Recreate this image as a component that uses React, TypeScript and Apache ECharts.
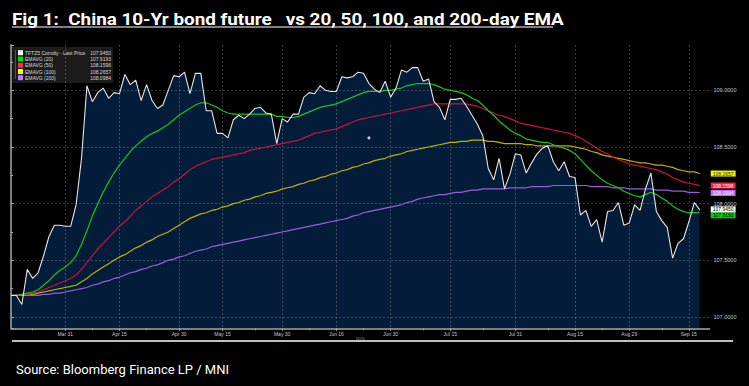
import React, { useEffect, useRef } from "react";
import * as echarts from "echarts";

// Trading-day index 0..127 (Mar 17 2025 .. Sep 17 2025)
const tickLabels = ["Mar 31", "Apr 15", "Apr 30", "May 15", "May 30", "Jun 16", "Jun 30", "Jul 15", "Jul 31", "Aug 15", "Aug 29", "Sep 15"];
const tickIdx = [10, 20, 31, 39, 50, 60, 70, 81, 93, 104, 114, 125];
const minorTickIdx = [4, 15, 25, 45, 55, 65, 76, 87, 99, 109, 120];

const seriesNames = ["TFTZ5 Comdty - Last Price", "EMAVG (20)", "EMAVG (50)", "EMAVG (100)", "EMAVG (200)"];
const legendValues = ["107.9450", "107.9193", "108.1596", "108.2657", "108.0984"];

const price = [
  107.19, 107.19, 107.11, 107.42, 107.34, 107.39, 107.54, 107.71, 107.81, 107.81,
  107.80, 107.80, 107.99, 108.40, 109.04, 108.90, 108.98, 109.02, 108.93, 108.98,
  108.97, 109.14, 109.05, 109.09, 108.91, 109.05, 108.91, 108.84, 108.87, 109.00,
  109.13, 109.12, 109.16, 108.97, 109.15, 109.15, 108.82, 108.82, 108.62, 108.62,
  108.58, 108.74, 108.78, 108.75, 108.79, 108.84, 108.85, 108.80, 108.79, 108.53,
  108.75, 108.72, 108.79, 108.79, 108.94, 108.98, 108.97, 109.04, 109.00, 108.99,
  108.99, 109.12, 109.11, 109.12, 109.16, 109.15, 109.06, 109.01, 108.98, 109.08,
  108.94, 109.02, 109.18, 109.16, 109.20, 109.20, 109.08, 109.10, 108.90, 108.85,
  108.74, 108.92, 108.92, 108.93, 108.86, 108.78, 108.70, 108.60, 108.31, 108.21,
  108.40, 108.13, 108.26, 108.44, 108.43, 108.27, 108.36, 108.44, 108.49, 108.51,
  108.37, 108.29, 108.37, 108.24, 108.23, 107.90, 107.94, 107.80, 107.86, 107.66,
  107.93, 107.94, 108.01, 107.81, 107.83, 107.99, 107.94, 108.13, 108.27, 107.93,
  107.85, 107.79, 107.52, 107.65, 107.69, 107.84, 108.01, 107.945,
];

const ema20 = [
  107.19, 107.19, 107.20, 107.21, 107.22, 107.24, 107.28, 107.32, 107.37, 107.41,
  107.44, 107.48, 107.54, 107.64, 107.76, 107.89, 108.00, 108.10, 108.19, 108.27,
  108.34, 108.40, 108.46, 108.51, 108.55, 108.59, 108.62, 108.64, 108.67, 108.70,
  108.74, 108.78, 108.81, 108.84, 108.87, 108.89, 108.89, 108.87, 108.85, 108.82,
  108.80, 108.79, 108.79, 108.79, 108.79, 108.79, 108.79, 108.79, 108.79, 108.77,
  108.77, 108.76, 108.76, 108.77, 108.79, 108.81, 108.83, 108.85, 108.86, 108.87,
  108.88, 108.90, 108.92, 108.94, 108.96, 108.98, 108.99, 108.99, 108.99, 109.00,
  109.00, 109.01, 109.02, 109.04, 109.05, 109.06, 109.06, 109.06, 109.05, 109.03,
  109.01, 109.00, 108.99, 108.98, 108.96, 108.93, 108.91, 108.87, 108.82, 108.78,
  108.73, 108.69, 108.65, 108.62, 108.60, 108.57, 108.56, 108.55, 108.54, 108.54,
  108.52, 108.50, 108.49, 108.47, 108.44, 108.39, 108.34, 108.29, 108.25, 108.21,
  108.18, 108.16, 108.14, 108.11, 108.09, 108.07, 108.06, 108.08, 108.10, 108.08,
  108.05, 108.02, 107.98, 107.95, 107.93, 107.92, 107.92, 107.9193,
];

const ema50 = [
  107.19, 107.19, 107.20, 107.20, 107.21, 107.22, 107.24, 107.26, 107.28, 107.30,
  107.32, 107.34, 107.37, 107.42, 107.48, 107.54, 107.60, 107.65, 107.70, 107.75,
  107.80, 107.84, 107.89, 107.94, 107.98, 108.02, 108.06, 108.09, 108.12, 108.15,
  108.19, 108.22, 108.26, 108.30, 108.33, 108.35, 108.37, 108.39, 108.40, 108.41,
  108.42, 108.43, 108.44, 108.45, 108.47, 108.48, 108.49, 108.50, 108.51, 108.52,
  108.53, 108.54, 108.55, 108.56, 108.58, 108.60, 108.62, 108.63, 108.64, 108.65,
  108.66, 108.68, 108.70, 108.72, 108.74, 108.75, 108.76, 108.77, 108.78, 108.79,
  108.80, 108.81, 108.82, 108.83, 108.84, 108.85, 108.86, 108.87, 108.88, 108.88,
  108.88, 108.88, 108.88, 108.88, 108.88, 108.87, 108.86, 108.84, 108.82, 108.80,
  108.78, 108.77, 108.75, 108.73, 108.71, 108.70, 108.69, 108.68, 108.67, 108.66,
  108.65, 108.64, 108.63, 108.62, 108.60, 108.58, 108.55, 108.52, 108.49, 108.46,
  108.44, 108.41, 108.39, 108.37, 108.35, 108.34, 108.33, 108.32, 108.31, 108.30,
  108.28, 108.26, 108.23, 108.21, 108.19, 108.18, 108.17, 108.1596,
];

const ema100 = [
  107.19, 107.19, 107.19, 107.20, 107.20, 107.21, 107.22, 107.23, 107.24, 107.25,
  107.26, 107.27, 107.28, 107.31, 107.34, 107.38, 107.41, 107.44, 107.47, 107.50,
  107.53, 107.55, 107.58, 107.61, 107.63, 107.66, 107.68, 107.71, 107.73, 107.75,
  107.78, 107.81, 107.84, 107.87, 107.89, 107.91, 107.92, 107.94, 107.95, 107.97,
  107.98, 108.00, 108.01, 108.03, 108.04, 108.06, 108.07, 108.09, 108.10, 108.11,
  108.13, 108.14, 108.15, 108.17, 108.18, 108.20, 108.21, 108.23, 108.24, 108.26,
  108.27, 108.29, 108.30, 108.32, 108.33, 108.35, 108.36, 108.38, 108.39, 108.40,
  108.42, 108.43, 108.44, 108.46, 108.47, 108.48, 108.49, 108.50, 108.51, 108.52,
  108.53, 108.54, 108.54, 108.55, 108.55, 108.56, 108.56, 108.56, 108.55, 108.55,
  108.54, 108.53, 108.53, 108.53, 108.53, 108.52, 108.52, 108.51, 108.51, 108.51,
  108.51, 108.51, 108.51, 108.51, 108.50, 108.49, 108.48, 108.46, 108.45, 108.43,
  108.42, 108.41, 108.40, 108.39, 108.38, 108.37, 108.36, 108.36, 108.35, 108.34,
  108.34, 108.33, 108.32, 108.30, 108.29, 108.28, 108.28, 108.2657,
];

const ema200 = [
  107.19, 107.19, 107.19, 107.19, 107.19, 107.19, 107.20, 107.20, 107.21, 107.21,
  107.22, 107.23, 107.24, 107.25, 107.26, 107.28, 107.29, 107.31, 107.32, 107.34,
  107.35, 107.37, 107.39, 107.40, 107.42, 107.43, 107.45, 107.46, 107.48, 107.50,
  107.51, 107.53, 107.54, 107.56, 107.58, 107.59, 107.60, 107.62, 107.63, 107.64,
  107.65, 107.66, 107.67, 107.68, 107.69, 107.70, 107.71, 107.72, 107.73, 107.74,
  107.75, 107.76, 107.77, 107.78, 107.79, 107.80, 107.81, 107.82, 107.83, 107.84,
  107.85, 107.86, 107.87, 107.89, 107.90, 107.92, 107.93, 107.94, 107.95, 107.96,
  107.97, 107.98, 107.99, 108.01, 108.02, 108.04, 108.05, 108.06, 108.07, 108.08,
  108.08, 108.09, 108.10, 108.10, 108.11, 108.12, 108.12, 108.13, 108.13, 108.13,
  108.13, 108.13, 108.14, 108.14, 108.14, 108.14, 108.15, 108.15, 108.15, 108.15,
  108.16, 108.16, 108.16, 108.16, 108.16, 108.16, 108.16, 108.15, 108.15, 108.15,
  108.15, 108.14, 108.14, 108.14, 108.13, 108.13, 108.13, 108.13, 108.13, 108.12,
  108.12, 108.12, 108.11, 108.11, 108.11, 108.10, 108.10, 108.0984,
];

const markerDot = [66, 108.58];

const colors = {
  price: "#e6e6e6",
  ema20: "#1ec21e",
  ema50: "#c8143c",
  ema100: "#bfae0c",
  ema200: "#9a5fd6",
};
const tagColors = ["#ffffff", "#00d400", "#ff1f4b", "#f2f200", "#b46cff"];
const tagText = ["#000", "#000", "#fff", "#333", "#fff"];
const tagOffsetY = [-0.5, 2.5, 0, 0, 0.5];
const swatchColors = ["#ffffff", "#00e000", "#ff2a4a", "#ffff00", "#c07aff"];

const SMALL_FONT = "Liberation Sans";

export default function App() {
  const ref = useRef<HTMLDivElement>(null);
  useEffect(() => {
    document.body.style.margin = "0";
    document.body.style.background = "#000";
    if (!ref.current) return;
    const chart = echarts.init(ref.current, undefined, { renderer: "svg" });
    const pairs = (arr: number[]) => arr.map((v, i) => [i, v]);
    const tag = (k: number) => ({
      show: true,
      distance: 11,
      offset: [0, tagOffsetY[k]],
      formatter: (p: any) => Number(p.value[1]).toFixed(4),
      backgroundColor: tagColors[k],
      color: tagText[k],
      fontSize: 5,
      lineHeight: 5,
      fontFamily: SMALL_FONT,
      padding: [0.5, 2, 0.5, 2],
    });
    const lineSeries = (name: string, data: number[], color: string, k: number, z: number, width = 1.2) => ({
      name,
      type: "line",
      data: pairs(data),
      showSymbol: false,
      symbol: "none",
      z,
      lineStyle: { color, width },
      endLabel: tag(k),
      silent: true,
    });

    const rowY = [52.7, 59, 65.3, 71.5, 77.7];
    const legendChildren: any[] = [
      { type: "rect", shape: { x: 12, y: 47, width: 101, height: 36 }, style: { fill: "#1b1b1b" } },
      { type: "line", shape: { x1: 15.5, y1: 50, x2: 15.5, y2: 79 }, style: { stroke: "#777", lineWidth: 0.6 } },
    ];
    seriesNames.forEach((n, k) => {
      legendChildren.push({ type: "rect", shape: { x: 18, y: rowY[k] - 2.5, width: 5, height: 5 }, style: { fill: swatchColors[k] } });
      legendChildren.push({ type: "text", x: 25, y: rowY[k], style: { text: n, fill: "#d8d8d8", font: `5px ${SMALL_FONT}`, verticalAlign: "middle" } });
      legendChildren.push({ type: "text", x: 111, y: rowY[k], style: { text: legendValues[k], fill: "#d8d8d8", font: `5px ${SMALL_FONT}`, align: "right", verticalAlign: "middle" } });
    });

    const option: any = {
      animation: false,
      backgroundColor: "#000000",
      grid: { left: 11, right: 39.5, top: 45, bottom: 57.7, outerBoundsMode: "none", containLabel: false },
      xAxis: [
        {
          type: "value",
          min: 0,
          max: 128.8,
          z: 1.5,
          name: "2025",
          nameLocation: "middle",
          nameGap: 8.5,
          nameMoveOverlap: false,
          nameTextStyle: { color: "#9a9a9a", fontSize: 4, fontFamily: SMALL_FONT },
          axisLine: { show: true, lineStyle: { color: "#a8a8a8", width: 1.5 } },
          axisTick: { show: true, length: 2.5, customValues: tickIdx, lineStyle: { color: "#a8a8a8" } },
          axisLabel: {
            show: true,
            customValues: tickIdx,
            formatter: (v: number) => tickLabels[tickIdx.indexOf(Math.round(v))] ?? "",
            color: "#c8c8c8",
            fontSize: 5,
            fontFamily: SMALL_FONT,
            margin: 3,
          },
          splitLine: { show: true, lineStyle: { color: "rgba(150,150,150,0.4)", type: [2, 2], width: 1 } },
        },
        {
          type: "value",
          min: 0,
          max: 128.8,
          position: "bottom",
          z: 1.5,
          axisLine: { show: false },
          axisTick: { show: true, length: 2, customValues: minorTickIdx, lineStyle: { color: "#a8a8a8" } },
          axisLabel: { show: false },
          splitLine: { show: false },
        },
      ],
      yAxis: {
        type: "value",
        position: "right",
        min: 106.9,
        max: 109.4,
        splitNumber: 5,
        z: 1.5,
        axisLine: { show: true, lineStyle: { color: "#a8a8a8", width: 1.5 } },
        axisTick: { show: true, length: 3, lineStyle: { color: "#a8a8a8" } },
        minorTick: { show: true, splitNumber: 2, length: 2, lineStyle: { color: "#a8a8a8" } },
        minorSplitLine: { show: false },
        axisLabel: {
          formatter: (v: number) => v.toFixed(4),
          color: "#c8c8c8",
          fontSize: 5.5,
          fontFamily: SMALL_FONT,
          margin: 4,
          showMinLabel: false,
          showMaxLabel: false,
        },
        splitLine: { show: true, showMinLine: false, showMaxLine: false, lineStyle: { color: "rgba(150,150,150,0.4)", type: [2, 2], width: 1 } },
      },
      series: [
        {
          name: "fill",
          type: "line",
          data: pairs(price),
          showSymbol: false,
          symbol: "none",
          z: 1,
          silent: true,
          lineStyle: { width: 0, opacity: 0 },
          areaStyle: { color: "#021c3a", opacity: 1, origin: "start" },
        },
        lineSeries(seriesNames[4], ema200, colors.ema200, 4, 3),
        lineSeries(seriesNames[3], ema100, colors.ema100, 3, 3),
        lineSeries(seriesNames[2], ema50, colors.ema50, 2, 3),
        lineSeries(seriesNames[1], ema20, colors.ema20, 1, 3),
        lineSeries(seriesNames[0], price, colors.price, 0, 4, 1.1),
        {
          name: "marker",
          type: "scatter",
          data: [markerDot],
          symbolSize: 3,
          z: 4,
          silent: true,
          itemStyle: { color: "#ffffff" },
        },
      ],
      graphic: [
        {
          type: "text",
          x: 12,
          y: 19,
          scaleX: 1.11,
          style: {
            text: "Fig 1:  China 10-Yr bond future   vs 20, 50, 100, and 200-day EMA",
            fill: "#ffffff",
            font: "bold 17px Roboto",
            verticalAlign: "middle",
          },
        },
        { type: "line", shape: { x1: 12, y1: 27, x2: 553, y2: 27 }, style: { stroke: "#ffffff", lineWidth: 1.2 } },
        { type: "group", z: 10, children: legendChildren },
        { type: "line", shape: { x1: 12, y1: 341, x2: 733, y2: 341 }, style: { stroke: "#ffffff", lineWidth: 1.5 } },
        {
          type: "text",
          x: 16,
          y: 369,
          style: { text: "Source: Bloomberg Finance LP / MNI", fill: "#ffffff", font: "13px Roboto", verticalAlign: "middle" },
        },
      ],
    };
    chart.setOption(option);
    return () => chart.dispose();
  }, []);
  return <div ref={ref} style={{ width: 749, height: 386, background: "#000" }} />;
}
